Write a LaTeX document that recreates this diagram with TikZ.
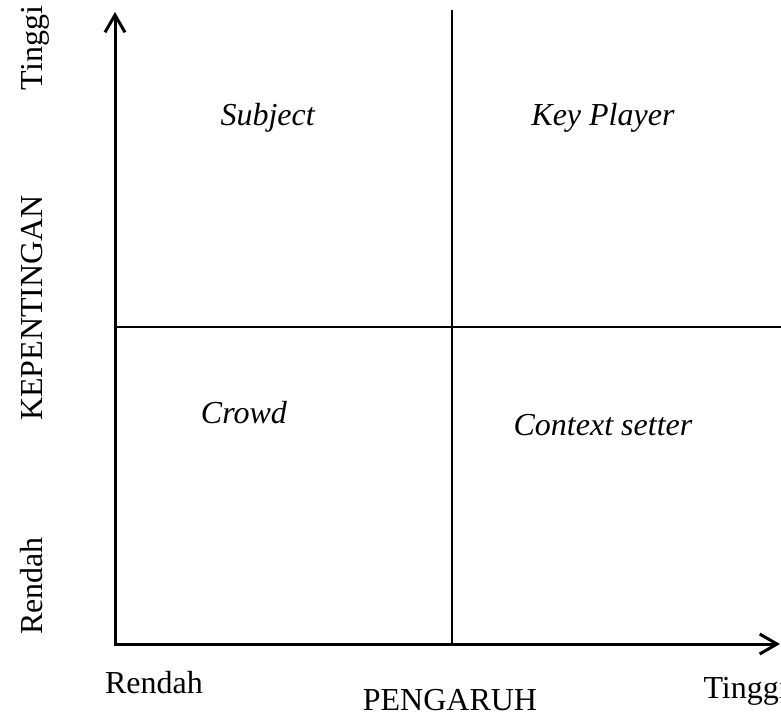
\documentclass[tikz,border=0pt]{standalone}
\usepackage{fontspec}
\setmainfont{Liberation Serif}
\usepackage{tikz}
\usetikzlibrary{arrows.meta}
\tikzset{every picture/.style={line width=0.75pt}}
\tikzset{
  axisline/.style={line width=2.25pt, -{Straight Barb[length=13pt,width=15pt,line width=2.25pt]}},
  quadline/.style={line width=1.5pt},
  lbl/.style={anchor=base, inner sep=0.75pt, font=\fontsize{24}{28}\selectfont},
  sidelbl/.style={lbl, rotate=90}
}

\begin{document}
\begin{tikzpicture}[x=0.75pt,y=0.75pt,yscale=-1,xscale=1]
\useasboundingbox (0,0) rectangle (781,715);

%Straight Lines [id:quad_v] 
\draw [quadline]   (452,10) -- (452,644) ;
%Straight Lines [id:quad_h] 
\draw [quadline]   (115,327) -- (781,327) ;
%Straight Lines [id:axis_y] 
\draw [axisline]   (115,644) -- (115,12) ;
%Straight Lines [id:axis_x] 
\draw [axisline]   (114,644) -- (780,644) ;

% Text Node
\draw (268,125) node (subject) [lbl]  {\textit{Subject}};
% Text Node
\draw (603,125) node (keyplayer) [lbl]  {\textit{Key Player}};
% Text Node
\draw (244,423) node (crowd) [lbl]  {\textit{Crowd}};
% Text Node
\draw (603,435) node (context) [lbl]  {\textit{Context setter}};
% Text Node
\draw (42,48) node (ytinggi) [sidelbl]  {Tinggi};
% Text Node
\draw (42,308) node (ylabel) [sidelbl]  {KEPENTINGAN};
% Text Node
\draw (42,586) node (yrendah) [sidelbl]  {Rendah};
% Text Node
\draw (154,693) node (xrendah) [lbl]  {Rendah};
% Text Node
\draw (450,710) node (xlabel) [lbl]  {PENGARUH};
% Text Node
\draw (702,698) node (xtinggi) [lbl, anchor=base west]  {Tinggi};

\end{tikzpicture}
\end{document}
